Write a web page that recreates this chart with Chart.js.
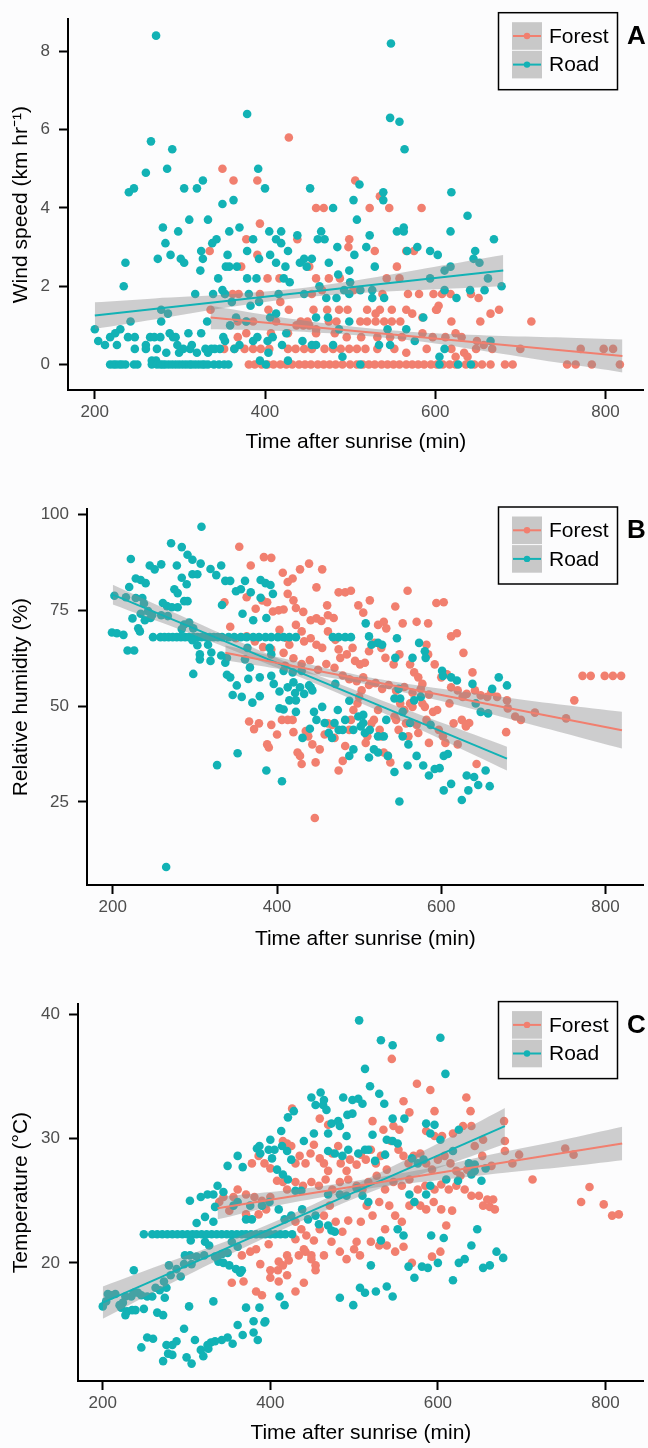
<!DOCTYPE html>
<html>
<head>
<meta charset="utf-8">
<script src="https://cdn.jsdelivr.net/npm/chart.js@4.4.1/dist/chart.umd.min.js"></script>
<style>
  html, body { margin: 0; padding: 0; background: #fcfcfd; }
  body { width: 648px; height: 1448px; position: relative; overflow: hidden; }
  canvas { position: absolute; left: 0; }
</style>
</head>
<body>
<canvas id="panelA" width="648" height="462" style="top:0px"></canvas>
<canvas id="panelB" width="648" height="462" style="top:490px"></canvas>
<canvas id="panelC" width="648" height="463" style="top:985px"></canvas>
<script>
// tick labels
const xTicks = [200, 400, 600, 800];
const windTicks = [0, 2, 4, 6, 8];
const humTicks = [25, 50, 75, 100];
const tempTicks = [20, 30, 40];

// A: wind speed (km/hr) vs time after sunrise (min)
const windForest = [[428,5.8],[350,5.0],[363,4.7],[391,4.7],[506,4.7],[535,4.3],[546,4.0],[523,4.0],[460,4.0],[469,4.0],[584,4.0],[394,3.6],[378,3.2],[438,3.2],[499,3.2],[498,3.0],[335,2.9],[391,2.8],[529,2.9],[566,2.9],[575,2.9],[372,2.5],[452,2.5],[555,2.5],[403,2.2],[417,2.2],[460,2.2],[475,2.2],[488,2.2],[543,2.2],[558,2.2],[353,1.8],[362,1.8],[369,1.8],[394,1.8],[418,1.6],[455,1.8],[467,1.9],[504,1.9],[538,1.8],[568,1.8],[581,1.8],[598,1.8],[608,1.8],[618,1.8],[642,1.8],[651,1.7],[604,1.5],[601,1.4],[404,1.4],[428,1.4],[457,1.4],[473,1.4],[487,1.4],[497,1.4],[520,1.4],[530,1.3],[535,1.4],[549,1.4],[566,1.4],[573,1.3],[585,1.2],[602,1.4],[665,1.3],[675,1.4],[336,1.4],[368,1.1],[378,1.1],[386,1.1],[413,1.1],[442,1.1],[450,1.1],[475,1.1],[484,1.1],[512,1.1],[520,1.1],[530,1.1],[540,1.1],[549,1.1],[559,1.1],[619,1.1],[653,1.1],[713,1.1],[437,1.0],[445,1.0],[452,1.0],[460,0.9],[378,0.8],[407,0.8],[427,0.8],[460,0.8],[482,0.8],[496,0.7],[513,0.7],[532,0.7],[547,0.7],[561,0.7],[585,0.8],[597,0.7],[612,0.7],[624,0.8],[631,0.7],[368,0.7],[649,0.6],[657,0.5],[352,0.4],[364,0.4],[376,0.4],[386,0.4],[395,0.4],[405,0.4],[427,0.4],[436,0.4],[446,0.4],[455,0.4],[470,0.4],[480,0.4],[489,0.4],[499,0.4],[508,0.4],[518,0.4],[532,0.4],[552,0.4],[566,0.3],[590,0.4],[619,0.4],[634,0.3],[648,0.4],[667,0.4],[700,0.4],[771,0.4],[798,0.4],[809,0.4],[624,0.2],[638,0.2],[381,0],[388,0],[396,0],[403,0],[410,0],[418,0],[425,0],[432,0],[440,0],[447,0],[454,0],[462,0],[469,0],[476,0],[483,0],[491,0],[500,0],[508,0],[515,0],[522,0],[529,0],[537,0],[544,0],[551,0],[558,0],[566,0],[573,0],[580,0],[587,0],[595,0],[602,0],[609,0],[617,0],[624,0],[636,0],[646,0],[655,0],[665,0],[682,0],[691,0],[755,0],[765,0],[784,0],[817,0]];
const windRoad = [[272,8.4],[548,8.2],[379,6.4],[547,6.3],[558,6.2],[564,5.5],[266,5.7],[291,5.5],[285,5.0],[260,4.9],[392,5.0],[400,4.5],[453,4.5],[305,4.5],[320,4.5],[327,4.7],[246,4.5],[240,4.4],[511,4.6],[539,4.4],[539,4.2],[504,4.2],[619,4.4],[350,4.1],[363,4.2],[480,4.0],[638,3.8],[508,3.7],[311,3.7],[333,3.7],[280,3.5],[370,3.5],[563,3.5],[298,3.4],[358,3.4],[405,3.4],[419,3.4],[466,3.4],[555,3.4],[563,3.4],[618,3.4],[438,3.3],[343,3.2],[386,3.2],[413,3.2],[462,3.2],[470,3.2],[523,3.3],[669,3.2],[338,3.1],[283,3.1],[419,3.1],[519,3.0],[485,3.0],[579,3.0],[647,2.9],[325,2.9],[379,2.9],[427,2.9],[567,2.9],[594,2.9],[603,2.8],[289,2.8],[356,2.8],[406,2.8],[505,2.8],[274,2.7],[327,2.7],[301,2.7],[393,2.7],[446,2.7],[455,2.7],[645,2.7],[236,2.6],[305,2.6],[413,2.6],[424,2.5],[441,2.6],[475,2.6],[652,2.6],[354,2.5],[358,2.5],[367,2.5],[449,2.5],[529,2.5],[618,2.5],[324,2.4],[499,2.4],[611,2.4],[345,2.2],[379,2.2],[390,2.2],[422,2.2],[486,2.3],[500,2.1],[429,2.1],[662,2.2],[594,2.2],[234,2.0],[678,2.0],[464,2.0],[493,1.9],[512,1.9],[526,1.9],[540,1.7],[526,1.7],[625,1.7],[658,1.9],[641,1.9],[611,1.9],[318,1.8],[339,1.8],[350,1.9],[353,1.8],[381,1.8],[416,1.8],[446,1.8],[472,1.7],[484,1.7],[499,1.8],[361,1.6],[383,1.5],[393,1.6],[278,1.4],[286,1.3],[366,1.2],[332,1.1],[278,1.1],[242,1.1],[378,1.1],[413,1.3],[406,1.2],[460,1.2],[474,1.2],[499,1.1],[586,1.2],[359,1.0],[425,0.8],[487,0.9],[544,0.9],[566,0.9],[200,0.9],[204,0.6],[212,0.5],[218,0.7],[224,0.8],[230,0.9],[226,0.5],[239,0.7],[247,0.4],[247,0.7],[260,0.5],[260,0.4],[265,0.7],[270,0.7],[273,0.4],[277,0.7],[284,0.3],[288,0.8],[292,0.7],[295,0.7],[297,0.5],[299,0.3],[304,0.4],[310,0.8],[312,0.4],[314,0.5],[320,0.3],[325,0.8],[330,0.4],[333,0.3],[337,0.4],[341,0.4],[347,0.4],[353,0.6],[351,0.7],[364,0.4],[370,0.5],[386,0.6],[391,0.7],[403,0.6],[409,0.7],[420,0.5],[444,0.6],[455,0.5],[460,0.5],[480,0.5],[491,0.2],[534,0.5],[547,0.5],[576,0.6],[605,0.2],[611,0.4],[665,0.6],[404,0.3],[427,0.1],[394,0.1],[267,0.1],[272,0.1],[218,0],[222,0],[225,0],[229,0],[232,0],[236,0],[246,0],[250,0],[267,0],[273,0],[277,0],[280,0],[283,0],[287,0],[291,0],[295,0],[299,0],[303,0],[307,0],[311,0],[314,0],[318,0],[322,0],[326,0],[329,0],[333,0],[340,0],[346,0],[352,0],[357,0],[401,0],[512,0],[605,0],[627,0],[642,0]];
const windForestFit = [[336,1.2],[820,0.22]];
const windRoadFit = [[200,1.25],[680,2.4]];
// [x, lower, upper]
const windForestBand = [[336,0.90,1.50],[400,0.87,1.27],[460,0.82,1.08],[530,0.71,0.91],[600,0.54,0.80],[680,0.27,0.73],[750,0.03,0.69],[820,-0.20,0.64]];
const windRoadBand = [[200,0.91,1.59],[270,1.15,1.69],[350,1.44,1.78],[430,1.68,1.92],[510,1.82,2.16],[600,1.92,2.50],[680,2.00,2.80]];

// B: relative humidity (%)
const humForest = [[354,91.6],[368,86.7],[384,88.9],[393,88.7],[407,84.8],[413,82.4],[419,83.3],[428,85.7],[439,87.2],[448,81.0],[455,85.7],[336,77.1],[363,78.4],[374,75.4],[382,77.6],[388,77.1],[395,74.7],[402,75.0],[408,75.2],[413,79.3],[420,77.6],[423,75.6],[432,74.6],[441,72.4],[448,72.9],[454,72.2],[462,73.7],[469,73.0],[461,76.3],[475,79.7],[483,79.7],[490,80.1],[499,76.3],[505,74.4],[513,77.6],[523,71.2],[530,72.0],[533,70.3],[544,76.0],[553,71.6],[559,80.1],[570,72.0],[584,71.6],[594,76.9],[603,77.1],[612,68.2],[619,69.0],[627,63.9],[638,58.8],[582,66.0],[584,63.5],[343,70.7],[350,67.7],[363,68.2],[373,66.9],[383,65.4],[393,64.8],[403,69.9],[412,67.7],[415,66.0],[408,63.9],[423,71.2],[430,69.5],[433,66.9],[441,67.7],[448,66.0],[455,65.2],[462,69.5],[471,67.3],[475,64.8],[477,62.6],[485,63.5],[492,65.2],[495,61.8],[501,60.9],[507,61.3],[512,64.3],[519,66.5],[527,65.2],[532,62.6],[542,60.9],[549,63.5],[562,60.9],[567,58.8],[572,57.5],[577,55.8],[592,60.9],[600,57.5],[607,58.3],[612,54.9],[620,54.1],[626,52.4],[631,53.2],[641,54.1],[648,52.8],[656,52.4],[661,53.7],[668,52.4],[680,51.5],[681,49.4],[690,47.3],[697,46.4],[714,48.3],[752,46.8],[762,51.5],[772,57.9],[782,57.9],[799,57.9],[809,57.9],[819,57.9],[679,43.2],[643,34.9],[630,44.7],[634,45.6],[366,46.0],[372,44.0],[378,45.5],[388,40.0],[390,39.2],[393,45.1],[400,42.6],[406,46.4],[413,46.4],[419,46.4],[420,43.2],[425,37.9],[428,37.0],[430,34.9],[435,43.5],[438,42.1],[443,40.0],[447,35.3],[452,38.7],[458,42.6],[446,20.8],[462,45.5],[467,45.1],[470,41.7],[475,33.2],[480,35.7],[483,39.6],[488,43.8],[490,46.4],[493,49.0],[498,50.7],[500,52.4],[503,54.1],[508,40.4],[510,42.1],[515,45.5],[518,46.4],[523,49.0],[525,43.8],[527,42.1],[530,37.9],[535,37.0],[538,35.3],[543,47.3],[545,46.4],[548,43.8],[550,50.7],[555,49.0],[557,45.5],[560,42.1],[562,50.7],[565,49.8],[570,45.1],[572,43.0],[577,50.7],[580,49.8],[582,46.4],[585,40.4],[590,48.5],[595,49.0],[597,43.8],[602,42.1],[605,40.4],[610,50.7],[615,45.5],[620,40.0],[625,46.4],[630,45.1],[480,58.0],[488,57.0],[497,56.5],[505,57.5],[512,55.5],[520,56.0],[528,54.5],[536,55.5],[545,54.0],[555,55.0],[565,53.5],[575,54.5],[585,53.0],[470,60.0],[460,61.0],[450,59.5],[440,62.0],[430,61.0],[420,62.5],[410,60.5]];
const humRoad = [[308,96.8],[271,92.5],[284,91.5],[291,89.5],[297,88.2],[222,88.4],[278,86.7],[245,86.7],[251,85.7],[259,87.0],[307,87.2],[319,85.8],[332,86.7],[326,84.2],[297,84.4],[303,84.4],[228,83.3],[234,82.9],[240,82.1],[284,83.5],[290,81.8],[220,81.1],[275,80.5],[279,79.5],[337,82.7],[343,82.7],[361,82.7],[380,82.9],[386,82.1],[392,81.6],[395,79.3],[350,80.0],[356,80.5],[368,79.7],[380,78.3],[228,78.2],[236,78.2],[266,76.1],[261,76.9],[272,75.8],[279,75.8],[287,77.4],[291,77.4],[238,76.8],[216,78.4],[202,78.8],[333,76.4],[358,74.1],[371,72.4],[387,73.0],[234,74.1],[243,74.8],[248,73.8],[239,72.4],[246,73.0],[224,72.9],[259,73.7],[267,73.5],[287,71.3],[293,71.8],[284,70.1],[298,70.3],[231,70.3],[233,69.5],[199,69.2],[205,69.0],[213,68.6],[249,68.0],[258,68],[263,68],[268,68],[273,68],[278,68],[283,68],[288,68],[293,68],[298,68],[303,68],[308,68],[313,68],[318,68],[323,68],[328,68],[333,68],[341,68],[348,68],[356,68],[363,68],[371,68],[378,68],[386,68],[393,68],[401,68],[408,68],[415,68],[423,68],[468,68],[475,68],[483,68],[490,68],[218,64.5],[226,64.5],[297,67.2],[303,65.9],[306,63.5],[306,62.2],[298,58.4],[320,64.0],[316,66.0],[319,61.8],[332,63.2],[339,62.6],[337,61.3],[339,58.2],[346,52.9],[327,34.6],[352,37.7],[265,8.0],[364,65.2],[361,62.2],[367,60.1],[370,50.9],[365,57.1],[379,52.6],[379,57.5],[387,33.2],[391,65.2],[393,57.9],[396,55.8],[403,53.8],[393,63.5],[408,59.2],[406,30.4],[403,49.4],[408,49.1],[413,54.9],[415,51.5],[419,58.8],[420,56.2],[422,53.4],[423,48.5],[428,54.9],[431,41.7],[441,54.9],[440,44.1],[445,48.5],[448,46.4],[455,49.8],[458,45.6],[463,43.0],[467,41.7],[470,45.6],[471,55.8],[474,49.0],[475,43.8],[483,46.4],[488,51.4],[488,37.0],[493,38.7],[480,43.8],[493,43.8],[499,47.3],[502,44.7],[505,45.6],[505,47.7],[507,43.0],[512,36.6],[518,38.7],[523,37.9],[512,68.2],[508,71.6],[515,66.0],[523,66.5],[528,66.0],[533,46.4],[530,42.1],[535,37.0],[543,32.8],[543,52.0],[544,62.6],[546,67.7],[549,25.1],[553,42.1],[560,40.0],[559,34.5],[565,62.6],[570,37.0],[573,66.5],[580,64.3],[581,62.6],[578,34.5],[585,31.9],[587,45.1],[592,33.6],[598,33.8],[603,37.0],[603,28.0],[608,37.5],[612,29.7],[612,57.5],[619,56.7],[625,25.5],[631,31.9],[633,28.0],[638,55.8],[640,31.5],[645,29.4],[642,50.7],[648,48.5],[654,33.2],[657,48.1],[659,29.1],[662,54.5],[670,57.5],[680,55.4],[601,59.2],[602,57.9],[548,54.5],[550,52.0],[575,52.4],[513,43.8],[523,42.1],[553,48.5],[562,45.6],[567,51.5],[343,57.5],[351,55.4],[357,52.4],[430,59.2],[439,55.4],[443,54.1],[423,51.5],[433,53.2]];
const humForestFit = [[337,63.9],[820,43.7]];
const humRoadFit = [[200,79.1],[680,36.3]];
const humForestBand = [[337,62.0,65.8],[400,59.8,62.8],[460,57.6,59.9],[520,55.2,57.2],[600,51.3,54.5],[680,46.8,52.2],[750,42.9,50.3],[820,38.9,48.5]];
const humRoadBand = [[200,76.5,81.7],[280,70.1,73.9],[360,63.4,66.3],[440,56.5,58.9],[520,49.1,52.1],[600,41.3,45.7],[680,33.2,39.4]];

// C: temperature (°C)
const tempForest = [[545,36.4],[575,34.4],[591,33.9],[634,33.3],[426,32.4],[559,33.0],[566,32.1],[596,32.2],[639,32.2],[459,31.6],[469,31.1],[522,31.4],[535,30.7],[547,31.0],[554,30.7],[586,30.6],[596,30.2],[605,30.2],[618,30.4],[630,31.0],[640,31.0],[679,31.4],[680,29.8],[680,29.0],[654,29.9],[378,28.0],[386,28.6],[393,28.0],[400,27.6],[415,29.8],[420,29.6],[425,29.4],[430,28.0],[435,28.6],[442,28.0],[448,28.8],[452,29.5],[459,28.4],[464,28.0],[469,27.4],[474,28.8],[481,29.4],[484,28.0],[491,27.4],[495,28.3],[503,27.9],[508,28.7],[514,28.3],[520,29.1],[526,28.0],[532,28.6],[539,27.5],[544,29.8],[553,29.1],[559,28.6],[565,28.0],[571,28.6],[579,28.8],[586,28.0],[593,27.5],[600,28.3],[608,28.6],[615,28.0],[622,27.4],[627,27.0],[635,27.5],[644,29.4],[653,28.6],[664,27.8],[689,28.0],[697,28.7],[713,26.7],[752,29.2],[762,28.7],[771,24.9],[781,26.1],[798,24.7],[808,23.8],[816,23.9],[356,25.3],[361,25.9],[371,25.5],[381,25.3],[390,25.0],[400,25.3],[339,24.9],[344,25.3],[408,26.6],[415,26.5],[420,25.9],[430,26.5],[439,26.2],[449,26.5],[458,26.2],[466,26.7],[474,25.9],[483,26.5],[493,26.7],[503,26.2],[510,25.9],[517,26.5],[527,27.0],[537,25.9],[547,26.5],[557,26.2],[566,26.7],[576,25.9],[585,26.2],[596,25.9],[604,26.3],[613,25.9],[622,26.2],[632,25.9],[640,25.4],[649,25.4],[654,24.6],[662,24.5],[668,24.3],[659,25.1],[666,25.1],[351,24.2],[371,23.9],[386,23.9],[395,24.3],[430,23.3],[437,22.7],[443,22.2],[452,21.8],[459,22.7],[464,23.8],[471,24.6],[478,23.3],[486,22.5],[493,23.4],[503,21.7],[508,23.3],[515,24.6],[522,23.8],[530,24.9],[537,22.7],[542,24.6],[549,23.8],[557,23.3],[566,24.6],[572,24.9],[579,24.6],[586,24.3],[595,24.9],[604,24.3],[610,23.0],[617,24.2],[398,21.5],[383,21.1],[376,20.9],[366,20.6],[420,20.6],[430,21.9],[440,21.1],[449,20.6],[454,19.8],[464,20.6],[473,21.7],[483,20.9],[491,20.3],[500,21.1],[507,20.6],[520,21.7],[530,21.4],[539,21.4],[549,20.9],[559,21.3],[569,20.0],[593,20.5],[603,20.9],[354,18.4],[368,18.5],[383,17.7],[390,17.4],[400,18.8],[410,18.5],[420,19.0],[430,17.7],[440,18.4],[388,19.9],[400,19.4],[410,20.1],[422,20.2],[434,20.6],[454,19.4],[409,19.4],[415,19.8],[442,20.9],[449,20.3]];
const tempRoad = [[506,39.5],[532,37.9],[546,37.5],[603,38.1],[609,35.2],[513,35.6],[519,34.2],[530,33.6],[536,32.8],[460,33.7],[449,33.3],[464,33.1],[487,33.3],[498,33.1],[505,33.2],[454,32.7],[463,32.7],[467,32.3],[510,32.8],[428,32.2],[421,31.7],[492,31.9],[498,32.0],[546,31.6],[560,31.6],[586,31.2],[596,31.1],[473,31.2],[481,31.4],[483,31.0],[413,30.6],[452,30.4],[469,30.4],[491,30.2],[400,29.9],[387,29.4],[414,29.4],[522,30.3],[539,29.9],[546,29.8],[591,30.4],[603,29.9],[398,29.1],[405,29.1],[420,29.0],[425,28.3],[440,29.8],[469,29.0],[477,28.8],[486,28.6],[493,29.1],[505,28.8],[513,29.1],[517,29.1],[525,28.2],[537,28.7],[552,29.6],[569,28.4],[576,28.0],[583,28.3],[618,29.0],[625,30.7],[637,28.0],[644,27.4],[652,26.6],[657,27.6],[349,27.8],[361,28.6],[367,27.7],[384,29.2],[388,28.8],[402,28.4],[408,27.5],[415,27.1],[421,26.7],[430,25.8],[437,25.8],[469,25.5],[483,25.5],[491,25.4],[503,26.0],[510,25.4],[517,24.9],[566,25.5],[572,24.9],[586,25.5],[591,26.2],[610,26.7],[337,26.2],[325,25.5],[332,25.5],[344,25.7],[317,25.3],[304,25.0],[356,24.6],[361,24.9],[376,24.6],[390,24.6],[399,24.9],[410,24.3],[417,23.5],[425,23.8],[438,24.3],[445,23.5],[454,23.8],[458,23.1],[469,23.0],[473,22.6],[477,22.5],[371,23.5],[378,23.5],[334,24.5],[322,23.7],[332,23.3],[312,23.2],[249,22.3],[259,22.3],[265,22.3],[271,22.3],[277,22.3],[283,22.3],[289,22.3],[295,22.3],[301,22.3],[307,22.3],[312,22.3],[318,22.3],[324,22.3],[330,22.3],[336,22.3],[342,22.3],[348,22.3],[354,22.3],[360,22.3],[366,22.3],[371,22.3],[377,22.3],[383,22.3],[389,22.3],[394,22.3],[400,22.3],[406,22.3],[412,22.3],[418,22.3],[426,22.3],[305,21.8],[322,21.7],[327,21.4],[354,21.7],[361,21.3],[349,20.8],[342,20.7],[334,20.5],[321,20.6],[312,20.5],[304,20.6],[306,19.9],[297,19.9],[338,20.1],[344,20.0],[351,19.8],[359,19.5],[366,19.4],[364,19.2],[298,20.6],[279,19.8],[288,19.5],[237,19.4],[281,19.0],[293,18.9],[273,18.5],[276,18.0],[263,18.0],[268,17.8],[274,17.2],[259,17.3],[253,17.3],[246,17.4],[242,17.6],[234,17.3],[237,17.6],[227,17.3],[224,16.8],[215,17.5],[210,17.4],[206,17.5],[220,16.6],[222,16.4],[229,16.1],[227,15.8],[200,16.5],[204,16.9],[239,16.2],[235,16.2],[249,16.3],[265,16.0],[272,15.8],[303,16.5],[332,16.9],[371,16.4],[387,16.4],[394,15.3],[380,15.3],[393,15.2],[361,15.0],[367,14.2],[385,13.8],[380,14.4],[349,14.0],[342,13.8],[334,13.7],[329,13.6],[325,13.4],[355,13.5],[317,13.0],[310,13.8],[297,14.7],[288,13.7],[283,13.4],[276,13.4],[253,14.0],[260,13.9],[246,13.2],[283,12.6],[278,12.7],[272,12.1],[300,12.4],[306,11.9],[320,12.5],[326,13.1],[411,17.3],[417,16.6],[483,17.2],[499,16.6],[507,18.0],[513,17.6],[526,17.7],[546,17.3],[539,18.1],[520,19.8],[532,21.8],[565,19.7],[572,18.8],[581,19.7],[588,19.6],[592,22.2],[600,20.0],[607,22.0],[618,18.6],[625,20.0],[632,20.3],[640,21.4],[647,22.7],[654,19.6],[662,19.8],[670,20.9],[678,20.4],[552,22.7],[559,22.2],[640,27.1],[644,27.9],[624,26.6]];
const tempForestFit = [[337,24.4],[820,29.6]];
const tempRoadFit = [[200,16.8],[680,31.0]];
const tempForestBand = [[337,23.5,25.3],[400,24.5,25.7],[460,25.25,26.15],[530,26.1,26.9],[600,26.65,27.75],[680,27.25,28.95],[750,27.7,29.9],[820,28.25,30.95]];
const tempRoadBand = [[200,15.5,18.1],[280,18.3,20.1],[360,20.95,22.05],[440,23.45,24.35],[520,25.7,26.9],[600,27.6,29.6],[680,29.55,32.45]];

const FOREST = '#F17F6F';
const ROAD = '#12B2B5';
const BAND = 'rgba(140,140,140,0.42)';
const FONT = "'Liberation Sans', Arial, sans-serif";

function pointsSet(pts, color, order) {
  return {
    type: 'scatter',
    data: pts.map(p => ({x: p[0], y: p[1]})),
    backgroundColor: color,
    borderWidth: 0,
    pointRadius: 4.3,
    order: order
  };
}

function bandSets(rows) {
  return [
    { type: 'line', data: rows.map(r => ({x: r[0], y: r[2]})), borderColor: 'rgba(0,0,0,0)',
      borderWidth: 0, pointRadius: 0, fill: false, tension: 0.3, order: 2 },
    { type: 'line', data: rows.map(r => ({x: r[0], y: r[1]})), borderColor: 'rgba(0,0,0,0)',
      borderWidth: 0, pointRadius: 0, fill: '-1', backgroundColor: BAND, tension: 0.3, order: 2 }
  ];
}

function fitSet(pts, color) {
  return {
    type: 'line',
    data: pts.map(p => ({x: p[0], y: p[1]})),
    borderColor: color, borderWidth: 2, pointRadius: 0, fill: false, order: 1
  };
}

// legend box, keys and the panel letter
function decor(p) {
  return {
    id: 'decor' + p.letter,
    afterDraw(chart) {
      const ctx = chart.ctx;
      const t = p.legendTop;
      ctx.save();
      ctx.fillStyle = '#fcfcfd';
      ctx.fillRect(498.5, t, 119, 77);
      ctx.strokeStyle = '#000';
      ctx.lineWidth = 1.5;
      ctx.strokeRect(498.5, t, 119, 77);
      [['Forest', FOREST], ['Road', ROAD]].forEach(([name, color], i) => {
        const ky = t + 9.5 + i * 28.6;
        ctx.fillStyle = '#c8c8c8';
        ctx.fillRect(512, ky, 30, 27.6);
        const cy = ky + 13.8;
        ctx.strokeStyle = color;
        ctx.lineWidth = 2;
        ctx.beginPath();
        ctx.moveTo(513, cy);
        ctx.lineTo(541, cy);
        ctx.stroke();
        ctx.fillStyle = color;
        ctx.beginPath();
        ctx.arc(527, cy, 3.2, 0, Math.PI * 2);
        ctx.fill();
        ctx.fillStyle = '#000';
        ctx.font = '21px ' + FONT;
        ctx.textBaseline = 'middle';
        ctx.fillText(name, 549, cy + 1);
      });
      ctx.font = 'bold 26px ' + FONT;
      ctx.fillStyle = '#000';
      ctx.textBaseline = 'middle';
      ctx.fillText(p.letter, 627, t + 24);
      ctx.restore();
    }
  };
}

function makePanel(id, p) {
  const canvas = document.getElementById(id);
  const tickFont = {family: FONT, size: 17};
  const titleFont = {family: FONT, size: 21};
  const axisGrid = {display: true, drawOnChartArea: false, drawTicks: true, tickLength: 9, tickWidth: 2, tickColor: '#000'};
  new Chart(canvas, {
    type: 'scatter',
    data: {
      datasets: [
        pointsSet(p.forest, FOREST, 4),
        pointsSet(p.road, ROAD, 3),
        ...bandSets(p.forestBand),
        ...bandSets(p.roadBand),
        fitSet(p.forestFit, FOREST),
        fitSet(p.roadFit, ROAD)
      ]
    },
    options: {
      responsive: false,
      animation: false,
      events: [],
      layout: {padding: {top: p.top, left: 0, right: 0, bottom: 0}},
      plugins: {legend: {display: false}, tooltip: {enabled: false}},
      scales: {
        x: {
          type: 'linear', min: p.xMin, max: p.xMax,
          afterBuildTicks: s => { s.ticks = xTicks.map(v => ({value: v})); },
          afterFit: s => { s.height = canvas.height - p.bottom; },
          grid: axisGrid,
          border: {display: true, color: '#000', width: 2},
          ticks: {font: tickFont, color: '#4d4d4d', padding: 3, maxRotation: 0},
          title: {display: true, text: 'Time after sunrise (min)', font: titleFont, color: '#000',
                  padding: {top: 0, bottom: p.titlePad}}
        },
        y: {
          type: 'linear', min: p.yMin, max: p.yMax,
          afterBuildTicks: s => { s.ticks = p.yTicks.map(v => ({value: v})); },
          afterFit: s => { s.width = p.left; },
          grid: axisGrid,
          border: {display: true, color: '#000', width: 2},
          ticks: {font: tickFont, color: '#4d4d4d', padding: 9},
          title: {display: true, text: p.yTitle, font: titleFont, color: '#000',
                  padding: {top: 8.5, bottom: 0}}
        }
      }
    },
    plugins: [decor(p)]
  });
}

makePanel('panelA', {
  letter: 'A', forest: windForest, road: windRoad,
  forestFit: windForestFit, roadFit: windRoadFit,
  forestBand: windForestBand, roadBand: windRoadBand,
  yTicks: windTicks, yTitle: 'Wind speed (km hr\u207B\u00B9)',
  xMin: 168.5, xMax: 845, yMin: -0.65, yMax: 8.82,
  top: 10, bottom: 390, left: 68, titlePad: 7, legendTop: 12.7
});
makePanel('panelB', {
  letter: 'B', forest: humForest, road: humRoad,
  forestFit: humForestFit, roadFit: humRoadFit,
  forestBand: humForestBand, roadBand: humRoadBand,
  yTicks: humTicks, yTitle: 'Relative humidity (%)',
  xMin: 168.6, xMax: 846.5, yMin: 3.3, yMax: 101.4,
  top: 15, bottom: 395, left: 87, titlePad: 0.5, legendTop: 17
});
makePanel('panelC', {
  letter: 'C', forest: tempForest, road: tempRoad,
  forestFit: tempForestFit, roadFit: tempRoadFit,
  forestBand: tempForestBand, roadBand: tempRoadBand,
  yTicks: tempTicks, yTitle: 'Temperature (\u00B0C)',
  xMin: 170.4, xMax: 845.7, yMin: 10.5, yMax: 40.8,
  top: 18, bottom: 396, left: 78, titlePad: 1.7, legendTop: 16.6
});
</script>
</body>
</html>
